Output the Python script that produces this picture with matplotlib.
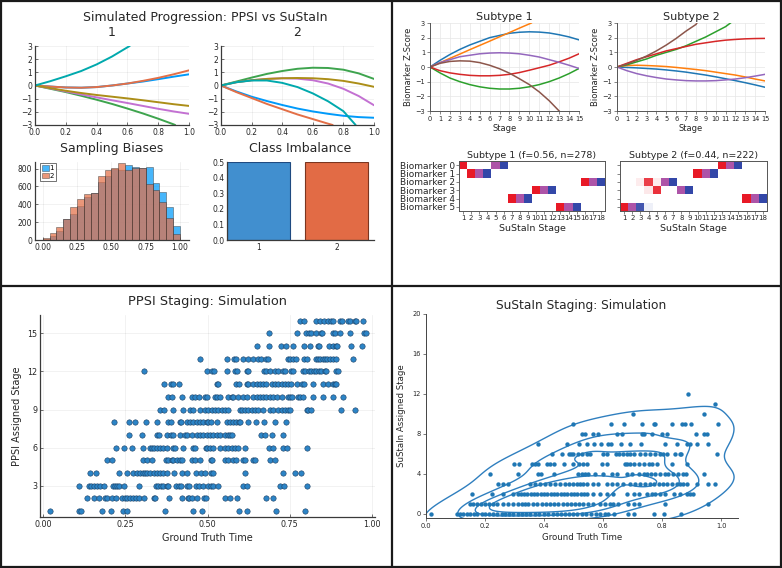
import numpy as np
import matplotlib
matplotlib.use("Agg")
import matplotlib.pyplot as plt
import seaborn as sns
from matplotlib.lines import Line2D

# ===================== DATA =====================
# --- Simulated progression (PPSI), two subtypes, six biomarkers ---
prog_t = [0.0, 0.1, 0.2, 0.3, 0.4, 0.5, 0.6, 0.7, 0.8, 0.9, 1.0]
p1_blue = [0, -0.08, -0.15, -0.17, -0.12, 0.0, 0.15, 0.30, 0.48, 0.67, 0.85]
p1_orange = [0, -0.08, -0.15, -0.17, -0.12, 0.0, 0.15, 0.35, 0.58, 0.85, 1.15]
p1_green_t = [0.0, 0.1, 0.2, 0.3, 0.4, 0.5, 0.6, 0.7, 0.8, 0.9, 0.91]
p1_green = [0, -0.25, -0.5, -0.78, -1.08, -1.4, -1.75, -2.12, -2.52, -2.95, -3.0]
p1_purple = [0, -0.22, -0.45, -0.68, -0.9, -1.12, -1.33, -1.55, -1.77, -1.97, -2.15]
p1_olive = [0, -0.2, -0.4, -0.57, -0.72, -0.85, -0.98, -1.12, -1.27, -1.42, -1.55]
p1_teal_t = [0.0, 0.1, 0.2, 0.3, 0.4, 0.5, 0.6, 0.615]
p1_teal = [0, 0.33, 0.7, 1.1, 1.6, 2.2, 2.9, 3.0]

p2_blue = [0, -0.45, -0.85, -1.18, -1.48, -1.75, -1.97, -2.15, -2.3, -2.4, -2.45]
p2_orange_t = [0.0, 0.1, 0.2, 0.3, 0.4, 0.5, 0.6, 0.7, 0.73]
p2_orange = [0, -0.5, -0.95, -1.4, -1.8, -2.2, -2.55, -2.9, -3.0]
p2_green = [0, 0.3, 0.6, 0.88, 1.1, 1.27, 1.35, 1.33, 1.2, 0.92, 0.5]
p2_purple = [0, 0.25, 0.4, 0.5, 0.55, 0.52, 0.4, 0.15, -0.25, -0.8, -1.5]
p2_olive = [0, 0.25, 0.4, 0.5, 0.55, 0.57, 0.55, 0.48, 0.35, 0.15, -0.1]
p2_teal_t = [0.0, 0.1, 0.2, 0.3, 0.4, 0.5, 0.6, 0.7, 0.8, 0.88]
p2_teal = [0, 0.25, 0.38, 0.38, 0.2, -0.12, -0.6, -1.2, -1.95, -3.0]

# --- Sampling biases histogram (bin width 0.05) ---
hist_left = [0.00, 0.05, 0.10, 0.15, 0.20, 0.25, 0.30, 0.35, 0.40, 0.45,
             0.50, 0.55, 0.60, 0.65, 0.70, 0.75, 0.80, 0.85, 0.90, 0.95]
hist_1 = [10, 50, 105, 235, 290, 380, 480, 530, 645, 720,
          800, 785, 845, 815, 810, 820, 640, 540, 370, 160]
hist_2 = [20, 75, 145, 240, 365, 455, 518, 530, 715, 785,
          810, 868, 780, 810, 810, 630, 555, 430, 242, 68]

# --- Class imbalance ---
class_labels = ["1", "2"]
class_frac = [0.5, 0.5]

# --- SuStaIn subtype trajectories (stage 0..15) ---
stages = list(range(16))
s1_blue = [0, 0.45, 0.85, 1.2, 1.5, 1.75, 2.0, 2.15, 2.3, 2.37, 2.4, 2.38, 2.32, 2.2, 2.05, 1.85]
s1_orange_x = [0, 1, 2, 3, 4, 5, 6, 7, 8, 9, 10, 10.2]
s1_orange = [0, 0.29, 0.59, 0.88, 1.18, 1.47, 1.76, 2.06, 2.35, 2.65, 2.94, 3.0]
s1_green = [0, -0.4, -0.75, -1.0, -1.2, -1.35, -1.45, -1.5, -1.5, -1.45, -1.35, -1.2, -1.0, -0.75, -0.45, -0.1]
s1_red = [0, -0.25, -0.4, -0.5, -0.57, -0.6, -0.6, -0.57, -0.5, -0.38, -0.22, -0.05, 0.12, 0.35, 0.6, 0.9]
s1_purple = [0, 0.3, 0.5, 0.7, 0.8, 0.9, 0.95, 0.97, 0.95, 0.9, 0.8, 0.68, 0.5, 0.32, 0.12, -0.1]
s1_brown_x = [0, 1, 2, 3, 4, 5, 6, 7, 8, 9, 10, 11, 12, 13]
s1_brown = [0, 0.25, 0.38, 0.42, 0.4, 0.3, 0.12, -0.12, -0.42, -0.8, -1.2, -1.7, -2.3, -3.0]

s2_blue = [0, -0.03, -0.06, -0.1, -0.14, -0.2, -0.27, -0.35, -0.45, -0.55, -0.67, -0.8, -0.93, -1.07, -1.22, -1.38]
s2_orange = [0, 0.1, 0.12, 0.1, 0.07, 0.03, -0.03, -0.1, -0.17, -0.25, -0.35, -0.45, -0.55, -0.68, -0.82, -0.95]
s2_green_x = [0, 1, 2, 3, 4, 5, 6, 7, 8, 9, 10, 11, 11.5]
s2_green = [0, 0.15, 0.35, 0.55, 0.8, 1.0, 1.2, 1.45, 1.75, 2.05, 2.4, 2.75, 3.0]
s2_red = [0, 0.25, 0.5, 0.7, 0.9, 1.1, 1.25, 1.4, 1.55, 1.65, 1.75, 1.83, 1.88, 1.92, 1.94, 1.95]
s2_purple = [0, -0.25, -0.45, -0.6, -0.72, -0.82, -0.88, -0.93, -0.95, -0.95, -0.93, -0.88, -0.82, -0.73, -0.62, -0.5]
s2_brown_x = [0, 1, 2, 3, 4, 5, 6, 7, 8, 8.1]
s2_brown = [0, 0.2, 0.45, 0.75, 1.1, 1.5, 1.95, 2.45, 2.9, 3.0]

# --- SuStaIn positional variance: (biomarker, z-level 1..3, stage 1..18, probability) ---
biomarkers = ["Biomarker 0", "Biomarker 1", "Biomarker 2", "Biomarker 3", "Biomarker 4", "Biomarker 5"]
pvd_sub1 = [(0, 1, 1, 1.0), (0, 2, 5, 1.0), (0, 3, 6, 1.0),
            (1, 1, 2, 1.0), (1, 2, 3, 1.0), (1, 3, 4, 1.0),
            (2, 1, 16, 1.0), (2, 2, 17, 1.0), (2, 3, 18, 1.0),
            (3, 1, 10, 1.0), (3, 2, 11, 1.0), (3, 3, 12, 1.0),
            (4, 1, 7, 1.0), (4, 2, 8, 1.0), (4, 3, 9, 1.0),
            (5, 1, 13, 1.0), (5, 2, 14, 1.0), (5, 3, 15, 1.0)]
pvd_sub2 = [(0, 1, 13, 1.0), (0, 2, 14, 1.0), (0, 3, 15, 1.0),
            (1, 1, 10, 1.0), (1, 2, 11, 1.0), (1, 3, 12, 1.0),
            (2, 1, 3, 0.08), (2, 1, 4, 0.84), (2, 1, 5, 0.08), (2, 2, 6, 1.0), (2, 3, 7, 1.0),
            (3, 1, 4, 0.1), (3, 1, 5, 0.9), (3, 2, 8, 1.0), (3, 3, 9, 1.0),
            (4, 1, 16, 1.0), (4, 2, 17, 1.0), (4, 3, 18, 1.0),
            (5, 1, 1, 1.0), (5, 2, 2, 1.0), (5, 3, 3, 0.92), (5, 3, 4, 0.08)]
sub1_title = "Subtype 1 (f=0.56, n=278)"
sub2_title = "Subtype 2 (f=0.44, n=222)"

# --- PPSI staging: ground-truth time per assigned stage ---
ppsi_s1 = [0.020, 0.111, 0.117, 0.180, 0.208, 0.242, 0.255, 0.372, 0.457, 0.482, 0.596, 0.619, 0.708, 0.796]
ppsi_s2 = [0.135, 0.154, 0.169, 0.189, 0.194, 0.209, 0.222, 0.240, 0.248, 0.255, 0.263, 0.273, 0.283, 0.293,
           0.307, 0.336, 0.341, 0.384, 0.422, 0.442, 0.445, 0.452, 0.467, 0.489, 0.495, 0.553, 0.568, 0.590,
           0.679, 0.700]
ppsi_s3 = [0.108, 0.141, 0.147, 0.156, 0.164, 0.174, 0.184, 0.214, 0.219, 0.224, 0.232, 0.247, 0.293, 0.343,
           0.351, 0.358, 0.366, 0.376, 0.381, 0.404, 0.412, 0.420, 0.437, 0.445, 0.465, 0.474, 0.487, 0.503,
           0.510, 0.518, 0.533, 0.609, 0.621, 0.720, 0.732, 0.801]
ppsi_s4 = [0.142, 0.161, 0.230, 0.255, 0.275, 0.285, 0.295, 0.303, 0.310, 0.315, 0.326, 0.336, 0.346, 0.356,
           0.366, 0.378, 0.398, 0.422, 0.437, 0.465, 0.479, 0.492, 0.510, 0.518, 0.614, 0.728, 0.765, 0.783]
ppsi_s5 = [0.196, 0.209, 0.305, 0.315, 0.331, 0.374, 0.381, 0.391, 0.396, 0.406, 0.417, 0.422, 0.452, 0.462,
           0.477, 0.510, 0.515, 0.553, 0.563, 0.578, 0.588, 0.609, 0.614, 0.639, 0.644, 0.690, 0.705]
ppsi_s6 = [0.222, 0.247, 0.270, 0.305, 0.326, 0.331, 0.338, 0.346, 0.356, 0.366, 0.376, 0.396, 0.401, 0.427,
           0.457, 0.462, 0.494, 0.499, 0.508, 0.518, 0.538, 0.553, 0.563, 0.573, 0.583, 0.594, 0.614, 0.688,
           0.700, 0.730, 0.742, 0.801]
ppsi_s7 = [0.262, 0.300, 0.346, 0.354, 0.378, 0.388, 0.396, 0.417, 0.432, 0.437, 0.452, 0.467, 0.477, 0.487,
           0.497, 0.508, 0.518, 0.528, 0.538, 0.553, 0.563, 0.568, 0.573, 0.664, 0.674, 0.695, 0.728]
ppsi_s8 = [0.217, 0.260, 0.280, 0.313, 0.346, 0.381, 0.388, 0.417, 0.420, 0.437, 0.447, 0.457, 0.467, 0.477,
           0.487, 0.497, 0.503, 0.510, 0.528, 0.558, 0.568, 0.578, 0.588, 0.597, 0.599, 0.624, 0.647, 0.672,
           0.706, 0.738]
ppsi_s9 = [0.356, 0.368, 0.394, 0.427, 0.447, 0.457, 0.477, 0.492, 0.503, 0.513, 0.523, 0.533, 0.543, 0.553,
           0.563, 0.599, 0.604, 0.614, 0.624, 0.634, 0.644, 0.654, 0.669, 0.690, 0.700, 0.715, 0.725, 0.735,
           0.745, 0.750, 0.801, 0.806, 0.816, 0.907, 0.949]
ppsi_s10 = [0.381, 0.391, 0.422, 0.452, 0.462, 0.474, 0.492, 0.497, 0.523, 0.528, 0.538, 0.563, 0.573, 0.578,
            0.594, 0.609, 0.619, 0.639, 0.649, 0.659, 0.669, 0.679, 0.690, 0.700, 0.710, 0.725, 0.745, 0.752,
            0.758, 0.776, 0.781, 0.791, 0.821, 0.851, 0.882, 0.912]
ppsi_s11 = [0.368, 0.388, 0.394, 0.412, 0.528, 0.533, 0.586, 0.597, 0.619, 0.624, 0.639, 0.649, 0.659, 0.669,
            0.679, 0.695, 0.705, 0.715, 0.725, 0.735, 0.745, 0.755, 0.773, 0.786, 0.793, 0.821, 0.851, 0.867,
            0.882, 0.887, 0.892]
ppsi_s12 = [0.308, 0.497, 0.514, 0.520, 0.558, 0.583, 0.590, 0.619, 0.624, 0.672, 0.679, 0.690, 0.705, 0.715,
            0.730, 0.735, 0.755, 0.760, 0.791, 0.796, 0.809, 0.816, 0.823, 0.831, 0.839, 0.846, 0.856, 0.861,
            0.892, 0.897]
ppsi_s13 = [0.477, 0.558, 0.581, 0.588, 0.609, 0.624, 0.639, 0.654, 0.664, 0.679, 0.685, 0.745, 0.750, 0.760,
            0.770, 0.793, 0.801, 0.831, 0.836, 0.843, 0.851, 0.856, 0.864, 0.872, 0.882, 0.892, 0.942]
ppsi_s14 = [0.649, 0.688, 0.722, 0.738, 0.760, 0.793, 0.811, 0.836, 0.839, 0.870, 0.882, 0.890, 0.895, 0.937, 0.971]
ppsi_s15 = [0.688, 0.773, 0.799, 0.809, 0.816, 0.831, 0.846, 0.849, 0.882, 0.887, 0.902, 0.932, 0.976, 0.981]
ppsi_s16 = [0.781, 0.793, 0.831, 0.843, 0.853, 0.867, 0.875, 0.882, 0.902, 0.910, 0.927, 0.934, 0.947, 0.950, 0.973]

# --- SuStaIn staging: ground-truth time per assigned stage ---
sus_s0 = [0.017, 0.104, 0.115, 0.127, 0.138, 0.149, 0.163, 0.174, 0.189, 0.200, 0.215, 0.228, 0.242, 0.257,
          0.268, 0.282, 0.296, 0.310, 0.324, 0.339, 0.353, 0.369, 0.384, 0.400, 0.415, 0.429, 0.443, 0.457,
          0.471, 0.486, 0.499, 0.513, 0.528, 0.542, 0.559, 0.576, 0.591, 0.605, 0.618, 0.636, 0.684, 0.704,
          0.772, 0.806, 0.864]
sus_s1 = [0.149, 0.160, 0.172, 0.186, 0.200, 0.214, 0.228, 0.242, 0.262, 0.279, 0.296, 0.310, 0.324, 0.336,
          0.347, 0.364, 0.377, 0.392, 0.407, 0.420, 0.434, 0.448, 0.463, 0.477, 0.491, 0.505, 0.520, 0.533,
          0.550, 0.567, 0.590, 0.607, 0.624, 0.635, 0.652, 0.686, 0.703, 0.720, 0.810, 0.957]
sus_s2 = [0.155, 0.223, 0.262, 0.296, 0.310, 0.321, 0.332, 0.343, 0.355, 0.366, 0.377, 0.389, 0.400, 0.411,
          0.423, 0.434, 0.445, 0.457, 0.468, 0.479, 0.491, 0.502, 0.513, 0.524, 0.536, 0.547, 0.567, 0.590,
          0.613, 0.635, 0.680, 0.705, 0.720, 0.748, 0.765, 0.776, 0.793, 0.810, 0.841, 0.861, 0.884, 0.895, 0.906]
sus_s3 = [0.245, 0.262, 0.279, 0.353, 0.369, 0.386, 0.403, 0.420, 0.437, 0.454, 0.471, 0.483, 0.499, 0.511,
          0.522, 0.533, 0.545, 0.567, 0.584, 0.613, 0.630, 0.646, 0.669, 0.692, 0.708, 0.725, 0.742, 0.759,
          0.771, 0.788, 0.804, 0.818, 0.833, 0.850, 0.862, 0.872, 0.884, 0.918, 0.957, 0.980]
sus_s4 = [0.217, 0.311, 0.381, 0.389, 0.432, 0.516, 0.528, 0.539, 0.550, 0.573, 0.601, 0.630, 0.646, 0.680,
          0.697, 0.720, 0.737, 0.748, 0.762, 0.776, 0.793, 0.810, 0.821, 0.838, 0.855, 0.872, 0.881, 0.942]
sus_s5 = [0.299, 0.315, 0.358, 0.369, 0.381, 0.409, 0.420, 0.432, 0.469, 0.499, 0.520, 0.533, 0.545, 0.596,
          0.613, 0.675, 0.682, 0.692, 0.705, 0.720, 0.737, 0.754, 0.765, 0.782, 0.833, 0.884]
sus_s6 = [0.426, 0.460, 0.483, 0.490, 0.499, 0.516, 0.528, 0.545, 0.556, 0.599, 0.613, 0.644, 0.655, 0.669,
          0.680, 0.692, 0.703, 0.725, 0.742, 0.759, 0.776, 0.793, 0.804, 0.818, 0.844, 0.859, 0.864, 0.985]
sus_s7 = [0.381, 0.477, 0.520, 0.545, 0.569, 0.592, 0.615, 0.626, 0.660, 0.692, 0.728, 0.810, 0.850, 0.884,
          0.895, 0.918, 0.955]
sus_s8 = [0.528, 0.539, 0.567, 0.584, 0.646, 0.663, 0.731, 0.740, 0.765, 0.799, 0.816, 0.915, 0.942, 0.952]
sus_s9 = [0.499, 0.626, 0.671, 0.731, 0.771, 0.776, 0.833, 0.867, 0.878, 0.898, 0.989]
sus_s10 = [0.700, 0.942]
sus_s11 = [0.980]
sus_s12 = [0.886]

# ===================== FIGURE =====================
W, H = 782, 568
plt.rcParams['font.family'] = ['DejaVu Sans']
plt.rcParams['axes.unicode_minus'] = True
fig = plt.figure(figsize=(W / 100, H / 100), dpi=100)
fig.patch.set_facecolor('white')
TXT = '#262626'


def add_ax(l, t, r, b):
    return fig.add_axes([l / W, 1 - b / H, (r - l) / W, (b - t) / H])


def ftext(x, y, s, size, **kw):
    kw.setdefault('ha', 'center')
    kw.setdefault('va', 'center')
    kw.setdefault('color', TXT)
    fig.text(x / W, 1 - y / H, s, fontsize=size, **kw)


def julia(ax, fs=5.5):
    for s in ['top', 'right']:
        ax.spines[s].set_visible(False)
    for s in ['left', 'bottom']:
        ax.spines[s].set_color('#3a3a3a')
        ax.spines[s].set_linewidth(0.9)
    ax.grid(True, color='black', alpha=0.07, lw=0.5)
    ax.set_axisbelow(True)
    ax.tick_params(direction='in', length=2.5, width=0.5, labelsize=fs, colors='#3a3a3a',
                   labelcolor=TXT, pad=2)


JB, JO, JG, JP, JY, JT = '#009AFA', '#E36F47', '#3EA44E', '#C371D2', '#AC8E18', '#00A9AD'

# ---------- Panel A: simulated progression ----------
ftext(205, 17, "Simulated Progression: PPSI vs SuStaIn", 9)
ftext(112, 33, "1", 9)
ftext(297, 33, "2", 9)
for (l, r), curves in zip([(35, 189), (221, 374)], [
        [(prog_t, p1_blue, JB), (prog_t, p1_orange, JO), (p1_green_t, p1_green, JG),
         (prog_t, p1_purple, JP), (prog_t, p1_olive, JY), (p1_teal_t, p1_teal, JT)],
        [(prog_t, p2_blue, JB), (p2_orange_t, p2_orange, JO), (prog_t, p2_green, JG),
         (prog_t, p2_purple, JP), (prog_t, p2_olive, JY), (p2_teal_t, p2_teal, JT)]]):
    ax = add_ax(l, 46, r, 125)
    julia(ax)
    for xs, ys, c in curves:
        ax.plot(xs, ys, color=c, lw=1.4, solid_capstyle='round')
    ax.set_xlim(0, 1)
    ax.set_ylim(-3, 3)
    ax.set_xticks([0, 0.2, 0.4, 0.6, 0.8, 1.0], ['0.0', '0.2', '0.4', '0.6', '0.8', '1.0'])
    ax.set_yticks([-3, -2, -1, 0, 1, 2, 3])

# histogram
ftext(112, 149, "Sampling Biases", 9)
ax = add_ax(35, 162, 189, 240)
julia(ax)
ax.bar(hist_left, hist_1, width=0.05, align='edge', color=JB, alpha=0.72,
       edgecolor='#2b2b2b', linewidth=0.4, label='1')
ax.bar(hist_left, hist_2, width=0.05, align='edge', color=JO, alpha=0.72,
       edgecolor='#2b2b2b', linewidth=0.4, label='2')
ax.set_xlim(-0.056, 1.065)
ax.set_ylim(0, 874)
ax.set_xticks([0, 0.25, 0.5, 0.75, 1.0], ['0.00', '0.25', '0.50', '0.75', '1.00'])
ax.set_yticks([0, 200, 400, 600, 800])
leg = ax.legend(loc='upper left', bbox_to_anchor=(0.03, 0.985), fontsize=5, frameon=True,
                fancybox=False, edgecolor='#333333', handlelength=1.0, handleheight=0.8,
                handletextpad=0.15, borderpad=0.3, labelspacing=0.2, borderaxespad=0)
leg.get_frame().set_linewidth(0.6)

# class imbalance
ftext(300, 149, "Class Imbalance", 9)
ax = add_ax(227, 162, 374, 240)
julia(ax)
ax.grid(False)
ax.bar([1, 2], class_frac, width=0.8, color=['#418fcf', '#e26b45'],
       edgecolor=['#1f4a80', '#7a3520'], linewidth=0.8)
ax.set_xlim(0.596, 2.48)
ax.set_ylim(0, 0.5)
ax.set_xticks([1, 2], class_labels)
ax.set_yticks([0.0, 0.1, 0.2, 0.3, 0.4, 0.5], ['0.0', '0.1', '0.2', '0.3', '0.4', '0.5'])
ax.tick_params(axis='x', length=0)

# ---------- Panel B: SuStaIn trajectories ----------
MB, MO, MG, MR, MP, MN = '#1f77b4', '#ff7f0e', '#2ca02c', '#d62728', '#9467bd', '#8c564b'


def mpl_small(ax, fs=4.8):
    for s in ['top', 'right']:
        ax.spines[s].set_visible(False)
    for s in ['left', 'bottom']:
        ax.spines[s].set_color('#555555')
        ax.spines[s].set_linewidth(0.7)
    ax.grid(True, color='#e6e6e6', lw=0.5)
    ax.set_axisbelow(True)
    ax.tick_params(length=2, width=0.5, labelsize=fs, colors='#555555', labelcolor=TXT, pad=1.5)


for (l, r), title, curves in zip([(430, 579), (617, 765)], ["Subtype 1", "Subtype 2"], [
        [(stages, s1_blue, MB), (s1_orange_x, s1_orange, MO), (stages, s1_green, MG),
         (stages, s1_red, MR), (stages, s1_purple, MP), (s1_brown_x, s1_brown, MN)],
        [(stages, s2_blue, MB), (stages, s2_orange, MO), (s2_green_x, s2_green, MG),
         (stages, s2_red, MR), (stages, s2_purple, MP), (s2_brown_x, s2_brown, MN)]]):
    ax = add_ax(l, 23, r, 111)
    mpl_small(ax)
    for xs, ys, c in curves:
        ax.plot(xs, ys, color=c, lw=1.1)
    ax.set_xlim(0, 15)
    ax.set_ylim(-3, 3)
    ax.set_xticks(stages)
    ax.set_yticks([-3, -2, -1, 0, 1, 2, 3])
    ax.set_title(title, fontsize=8, color=TXT, pad=2)
    ax.set_xlabel("Stage", fontsize=6, color=TXT, labelpad=1.5)
    ax.set_ylabel("Biomarker Z-Score", fontsize=6, color=TXT, labelpad=2)

# heatmaps
zcol = {1: np.array([0.91, 0.10, 0.15]), 2: np.array([0.68, 0.33, 0.66]), 3: np.array([0.20, 0.28, 0.66])}
for (l, r), events, title, show_lab in zip([(459, 605), (620, 767)], [pvd_sub1, pvd_sub2],
                                            [sub1_title, sub2_title], [True, False]):
    ax = add_ax(l, 161, r, 211)
    img = np.ones((len(biomarkers), 18, 3))
    for bm, z, st, p in events:
        img[bm, st - 1] = img[bm, st - 1] * (1 - p) + zcol[z] * p
    ax.imshow(img, aspect='auto', interpolation='nearest', extent=(-0.5, 17.5, 5.5, -0.5))
    ax.set_xticks(range(18), [str(i + 1) for i in range(18)])
    ax.set_yticks(range(len(biomarkers)))
    if show_lab:
        ax.set_yticklabels(biomarkers)
    else:
        ax.set_yticklabels([])
    ax.tick_params(length=2, width=0.5, labelsize=5.0, colors='#555555', labelcolor=TXT, pad=1)
    ax.tick_params(axis='y', labelsize=6.5)
    for s in ax.spines.values():
        s.set_color('#555555')
        s.set_linewidth(0.7)
    ax.set_title(title, fontsize=6.8, color=TXT, pad=2)
    ax.set_xlabel("SuStaIn Stage", fontsize=6.8, color=TXT, labelpad=2)

# ---------- Panel C: PPSI staging ----------
ppsi_rows = [ppsi_s1, ppsi_s2, ppsi_s3, ppsi_s4, ppsi_s5, ppsi_s6, ppsi_s7, ppsi_s8,
             ppsi_s9, ppsi_s10, ppsi_s11, ppsi_s12, ppsi_s13, ppsi_s14, ppsi_s15, ppsi_s16]
ppsi_x = np.concatenate([np.array(r, float) for r in ppsi_rows])
ppsi_y = np.concatenate([np.full(len(r), i + 1) for i, r in enumerate(ppsi_rows)])
ftext(207, 302, "PPSI Staging: Simulation", 9.3)
ax = add_ax(40, 315, 375, 517)
julia(ax, fs=5.8)
ax.scatter(ppsi_x, ppsi_y, s=15, color='#2c84c6', edgecolors='#1c3f62', linewidths=0.4, zorder=3)
ax.set_xlim(-0.009, 1.009)
ax.set_ylim(0.53, 16.45)
ax.set_xticks([0, 0.25, 0.5, 0.75, 1.0], ['0.00', '0.25', '0.50', '0.75', '1.00'])
ax.set_yticks([3, 6, 9, 12, 15])
ax.set_xlabel("Ground Truth Time", fontsize=7, color=TXT, labelpad=3)
ax.set_ylabel("PPSI Assigned Stage", fontsize=7, color=TXT, labelpad=4)

# ---------- Panel D: SuStaIn staging ----------
sus_rows = [sus_s0, sus_s1, sus_s2, sus_s3, sus_s4, sus_s5, sus_s6, sus_s7, sus_s8,
            sus_s9, sus_s10, sus_s11, sus_s12]
sus_x = np.concatenate([np.array(r, float) for r in sus_rows])
sus_y = np.concatenate([np.full(len(r), i, dtype=float) for i, r in enumerate(sus_rows)])
ftext(581, 306, "SuStaIn Staging: Simulation", 8.8)
ax = add_ax(426, 314, 738, 518)
sns.kdeplot(x=sus_x, y=sus_y, ax=ax, levels=5, color='#2f7fbf', linewidths=1.0)
ax.scatter(sus_x, sus_y, s=10, color='#1f77b4', linewidths=0, zorder=3)
ax.set_xlim(0, 1.057)
ax.set_ylim(-0.43, 20)
ax.set_xticks([0, 0.2, 0.4, 0.6, 0.8, 1.0], ['0.0', '0.2', '0.4', '0.6', '0.8', '1.0'])
ax.set_yticks([0, 4, 8, 12, 16, 20])
for s in ['top', 'right']:
    ax.spines[s].set_visible(False)
for s in ['left', 'bottom']:
    ax.spines[s].set_color('#444444')
    ax.spines[s].set_linewidth(0.7)
ax.tick_params(length=2, width=0.5, labelsize=4.8, colors='#444444', labelcolor=TXT, pad=1.5)
ax.set_xlabel("Ground Truth Time", fontsize=6.2, color=TXT, labelpad=3)
ax.set_ylabel("SuStaIn Assigned Stage", fontsize=6.2, color=TXT, labelpad=5)

# ---------- panel borders ----------
def fline(x0, y0, x1, y1, lw=1.6):
    fig.add_artist(Line2D([x0 / W, x1 / W], [1 - y0 / H, 1 - y1 / H], color='#1a1a1a',
                          lw=lw, transform=fig.transFigure, solid_capstyle='butt'))


fline(1, 0, 1, H)
fline(W - 1, 0, W - 1, H)
fline(0, 1, W, 1)
fline(0, H - 1, W, H - 1)
fline(392, 0, 392, H)
fline(0, 286, W, 286)

fig.savefig('out.png', dpi=100, facecolor='white')
